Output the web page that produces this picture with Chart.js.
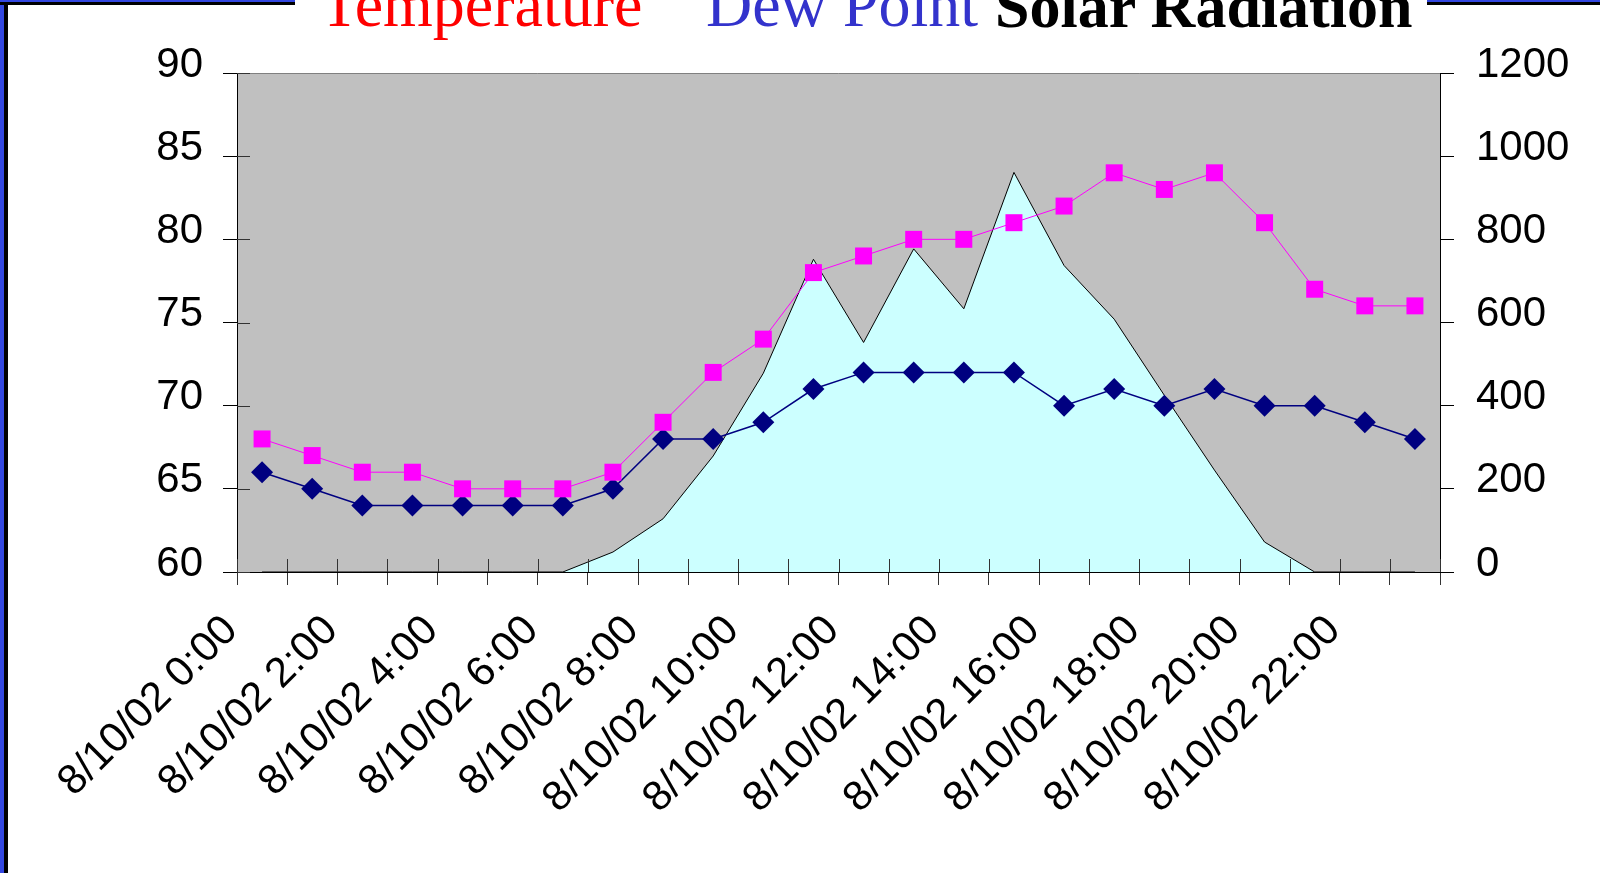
<!DOCTYPE html>
<html>
<head>
<meta charset="utf-8">
<script src="https://cdn.jsdelivr.net/npm/chart.js@4/dist/chart.umd.min.js"></script>
<style>
    html, body { margin: 0; padding: 0; background: #fff; overflow: hidden; }
    #wrap { position: relative; width: 1600px; height: 873px; }
    #chart { position: absolute; left: 0; top: 0; }
    .frame { position: absolute; box-sizing: border-box; }
    #frame-left { left: 0; top: 0; width: 8px; height: 873px; background: #000; border-left: 4px solid #3347e0; }
    #frame-top-left { left: 0; top: 0; width: 295px; height: 5px; background: #000; border-top: 2px solid #3347e0; }
    #frame-top-right { left: 1427px; top: 0; width: 173px; height: 5px; background: #000; border-top: 2px solid #3347e0; }
    .title-part { position: absolute; top: -27px; font-family: "Liberation Serif", "Times New Roman", serif; font-size: 64px; line-height: 64px; white-space: nowrap; }
    .title-part.bold { top: -25px; font-size: 62px; line-height: 62px; font-weight: bold; }
</style>
</head>
<body>
<div id="wrap">
    <canvas id="chart" width="1600" height="873"></canvas>
    <div class="frame" id="frame-left"></div>
    <div class="frame" id="frame-top-left"></div>
    <div class="frame" id="frame-top-right"></div>
    <span class="title-part" style="left:320px;color:#ff0000;">Temperature</span>
    <span class="title-part" style="left:706px;color:#3333cc;">Dew Point</span>
    <span class="title-part bold" style="left:995px;color:#000;">Solar Radiation</span>
</div>
<script>
// hourly readings, 8/10/02
const hours = ["0:00", "1:00", "2:00", "3:00", "4:00", "5:00", "6:00", "7:00", "8:00", "9:00", "10:00", "11:00",
               "12:00", "13:00", "14:00", "15:00", "16:00", "17:00", "18:00", "19:00", "20:00", "21:00", "22:00", "23:00"];
const timeLabels = hours.map(h => "8/10/02 " + h);

const temperature = [68, 67, 66, 66, 65, 65, 65, 66, 69, 72, 74, 78, 79, 80, 80, 81, 82, 84, 83, 84, 81, 77, 76, 76];
const dewPoint = [66, 65, 64, 64, 64, 64, 64, 65, 68, 68, 69, 71, 72, 72, 72, 72, 70, 71, 70, 71, 70, 70, 69, 68];
const solarRadiation = [0, 0, 0, 0, 0, 0, 0, 48, 128, 279, 478, 752, 552, 777, 633, 961, 737, 608, 425, 245, 72, 0, 0, 0];

const leftTicks = [60, 65, 70, 75, 80, 85, 90];
const rightTicks = [0, 200, 400, 600, 800, 1000, 1200];

const tickFont = { family: "'Liberation Sans', Arial, sans-serif", size: 42 };

// gray plot background + top border + tick marks that poke into the plot
const plotDecor = {
    id: "plotDecor",
    beforeDraw(chart) {
        const { ctx, chartArea } = chart;
        ctx.save();
        ctx.fillStyle = "#c0c0c0";
        ctx.fillRect(chartArea.left, chartArea.top, chartArea.right - chartArea.left, chartArea.bottom - chartArea.top);
        ctx.restore();
    },
    afterDraw(chart) {
        const { ctx, chartArea, scales } = chart;
        ctx.save();
        ctx.lineWidth = 1;
        ctx.strokeStyle = "#808080";
        ctx.beginPath();
        ctx.moveTo(chartArea.left, chartArea.top + 0.5);
        ctx.lineTo(chartArea.right, chartArea.top + 0.5);
        ctx.stroke();

        ctx.strokeStyle = "#333";
        ctx.beginPath();
        const step = (chartArea.right - chartArea.left) / timeLabels.length;
        for (let i = 0; i <= timeLabels.length; i++) {
            const x = Math.round(chartArea.left + i * step) + 0.5;
            ctx.moveTo(x, chartArea.bottom);
            ctx.lineTo(x, chartArea.bottom - 13);
        }
        leftTicks.forEach(v => {
            const y = Math.round(scales.y.getPixelForValue(v)) + 0.5;
            ctx.moveTo(chartArea.left, y);
            ctx.lineTo(chartArea.left + 13, y);
        });
        ctx.stroke();
        ctx.restore();
    }
};

const chartCanvas = document.querySelector("#chart");

new Chart(chartCanvas, {
    type: "line",
    data: {
        labels: timeLabels,
        datasets: [
            {
                label: "Temperature",
                data: temperature,
                yAxisID: "y",
                borderColor: "#ff00ff",
                backgroundColor: "#ff00ff",
                borderWidth: 1,
                fill: false,
                tension: 0,
                pointStyle: "rect",
                pointRadius: 12,
                pointBorderWidth: 0,
            },
            {
                label: "Dew Point",
                data: dewPoint,
                yAxisID: "y",
                borderColor: "#000080",
                backgroundColor: "#000080",
                borderWidth: 1.5,
                fill: false,
                tension: 0,
                pointStyle: "rectRot",
                pointRadius: 11,
                pointBorderWidth: 0,
            },
            {
                label: "Solar Radiation",
                data: solarRadiation,
                yAxisID: "y1",
                borderColor: "#000",
                backgroundColor: "#ccffff",
                borderWidth: 1,
                fill: "origin",
                tension: 0,
                pointRadius: 0,
            }
        ]
    },
    options: {
        responsive: false,
        animation: false,
        layout: {
            padding: { top: 73, left: 0, right: 0, bottom: 0 }
        },
        scales: {
            x: {
                offset: true,
                afterFit: scale => { scale.height = 301; },
                grid: {
                    offset: true,
                    drawOnChartArea: false,
                    tickLength: 13,
                    color: "#333",
                },
                border: { color: "#000", width: 1 },
                ticks: {
                    autoSkip: false,
                    minRotation: 45,
                    maxRotation: 45,
                    padding: 21,
                    labelOffset: -31,
                    color: "#000",
                    font: tickFont,
                    callback: function (value, index) {
                        return index % 2 === 0 ? timeLabels[index] : "";
                    }
                }
            },
            y: {
                position: "left",
                min: 60,
                max: 90,
                afterFit: scale => { scale.width = 237; },
                afterBuildTicks: scale => { scale.ticks = leftTicks.map(v => ({ value: v })); },
                grid: {
                    drawOnChartArea: false,
                    tickLength: 14,
                    color: "#000",
                },
                border: { color: "#000", width: 1 },
                ticks: {
                    padding: 20,
                    labelOffset: -8,
                    color: "#000",
                    font: tickFont,
                    callback: value => String(value)
                }
            },
            y1: {
                position: "right",
                min: 0,
                max: 1200,
                afterFit: scale => { scale.width = 160; },
                afterBuildTicks: scale => { scale.ticks = rightTicks.map(v => ({ value: v })); },
                grid: {
                    drawOnChartArea: false,
                    tickLength: 14,
                    color: "#000",
                },
                border: { color: "#000", width: 1 },
                ticks: {
                    padding: 22,
                    labelOffset: -8,
                    color: "#000",
                    font: tickFont,
                    callback: value => String(value)
                }
            }
        },
        plugins: {
            legend: { display: false },
            title: { display: false },
            tooltip: { enabled: false }
        }
    },
    plugins: [plotDecor]
});
</script>
</body>
</html>
